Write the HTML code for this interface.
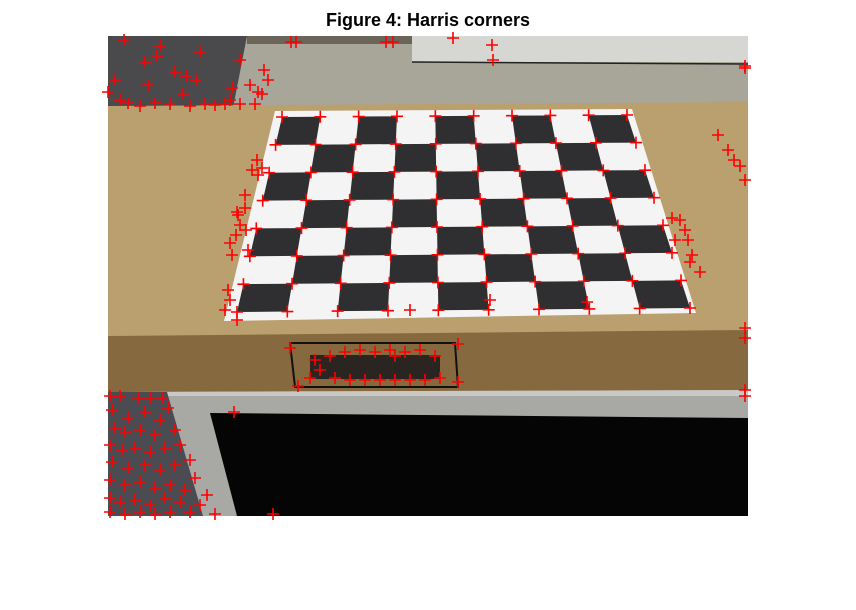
<!DOCTYPE html>
<html><head><meta charset="utf-8"><style>
body{margin:0;background:#fff;}
svg{display:block;font-family:"Liberation Sans",sans-serif;}
</style></head><body>
<svg width="856" height="610" viewBox="0 0 856 610">
<rect width="856" height="610" fill="#fff"/>
<text x="428" y="26" text-anchor="middle" font-size="18" font-weight="bold" fill="#000">Figure 4: Harris corners</text>
<g id="photo">
  <rect x="108" y="36" width="640" height="480" fill="#b59a6b"/>
  <polygon points="247,36 748,36 748,108 108,108" fill="#a8a698"/>
  <polygon points="412,36 748,36 748,62 412,62" fill="#d6d6d2"/>
  <line x1="412" y1="62" x2="748" y2="64" stroke="#222" stroke-width="1.5"/>
  <rect x="247" y="36" width="165" height="8" fill="#6a6558"/>
  <polygon points="108,36 247,36 233,108 108,108" fill="#4a4a4c"/>
  <polygon points="108,106 748,102 748,334 108,336" fill="#b9a06e"/>
  <polygon points="108,336 748,330 748,392 108,392" fill="#86693e"/>
  <polygon points="108,392 748,390 748,420 237,516 108,516" fill="#a8a8a4"/>
  <polygon points="108,392 748,390 748,396 108,396" fill="#c8c8c4"/>
  <polygon points="210,413 748,418 748,516 237,516" fill="#050505"/>
  <polygon points="167,392 108,392 108,516 203,516" fill="#4b4c52"/>
  <polygon points="290,343 455,343 458,387 295,387" fill="none" stroke="#111" stroke-width="2"/>
  <rect x="310" y="355" width="130" height="24" fill="#2a2520"/>
  <polygon points="275,111 632,109 696,313 224,321" fill="#f4f4f4"/>
  <g id="board"></g>
  <g id="corners"></g>
</g>
</svg>
<script>
const gridCorners=[[282,117],[627,115],[237,312],[690,308]];
const cols=9, rows=7;
const extraX=[124,160,157,200,145,240,175,186,196,115,108,148,183,232,250,264,268,262,255,120,128,140,155,170,190,205,215,225,240,258,230,
291,296,386,393,453,492,493,745,745,718,728,734,740,745,
257,252,262,258,245,245,238,240,236,230,232,248,237,246,
672,680,685,688,692,700,690,675,225,230,228,410,490,587,237,
745,745,745,745,290,458,298,458,330,345,360,375,390,405,420,435,320,335,350,365,380,395,410,425,440,310,315,395,
110,120,138,150,162,168,112,128,145,160,115,125,140,155,175,110,122,135,150,165,180,112,128,145,160,175,190,110,125,140,155,170,185,195,110,120,135,150,165,180,200,110,125,140,155,170,190,215,207,234,273];
const extraY=[40,46,56,52,62,60,72,76,80,80,92,85,94,88,85,70,80,94,104,100,103,106,103,104,106,104,105,104,104,92,100,
42,42,42,42,38,45,60,68,66,135,150,160,166,180,
160,170,168,175,195,208,215,225,235,243,255,250,212,230,
218,220,230,240,255,272,262,240,310,300,290,310,300,302,320,
328,338,390,396,348,344,386,382,356,352,350,352,350,352,350,356,370,378,380,380,380,380,380,380,378,378,360,356,
396,396,398,398,398,408,410,418,412,420,428,432,430,435,430,445,450,448,452,448,445,462,468,465,470,465,460,480,485,482,488,485,490,478,498,502,500,505,498,502,505,512,514,512,514,512,512,514,495,412,514];
function lerp(a,b,t){return [a[0]+(b[0]-a[0])*t,a[1]+(b[1]-a[1])*t];}
function pt(u,v){const top=lerp(gridCorners[0],gridCorners[1],u),bot=lerp(gridCorners[2],gridCorners[3],u);return lerp(top,bot,v);}
const NS="http://www.w3.org/2000/svg";
const board=document.getElementById('board');
for(let r=0;r<rows;r++)for(let c=0;c<cols;c++){
  if((r+c)%2!==0)continue;
  const p=[pt(c/cols,r/rows),pt((c+1)/cols,r/rows),pt((c+1)/cols,(r+1)/rows),pt(c/cols,(r+1)/rows)];
  const poly=document.createElementNS(NS,'polygon');
  poly.setAttribute('points',p.map(q=>q.join(',')).join(' '));
  poly.setAttribute('fill','#2f2f31');
  
  
  board.appendChild(poly);
}
const cg=document.getElementById('corners');
function cross(x,y){
  const p=document.createElementNS(NS,'path');
  p.setAttribute('d',`M${x-6},${y}H${x+6}M${x},${y-6}V${y+6}`);
  p.setAttribute('stroke','#ff0000');
  p.setAttribute('stroke-width','1.6');
  
  
  cg.appendChild(p);
}
for(let r=0;r<=rows;r++)for(let c=0;c<=cols;c++){const q=pt(c/cols,r/rows);cross(q[0],q[1]);}
for(let i=0;i<extraX.length;i++)cross(extraX[i],extraY[i]);
</script>
</body></html>
